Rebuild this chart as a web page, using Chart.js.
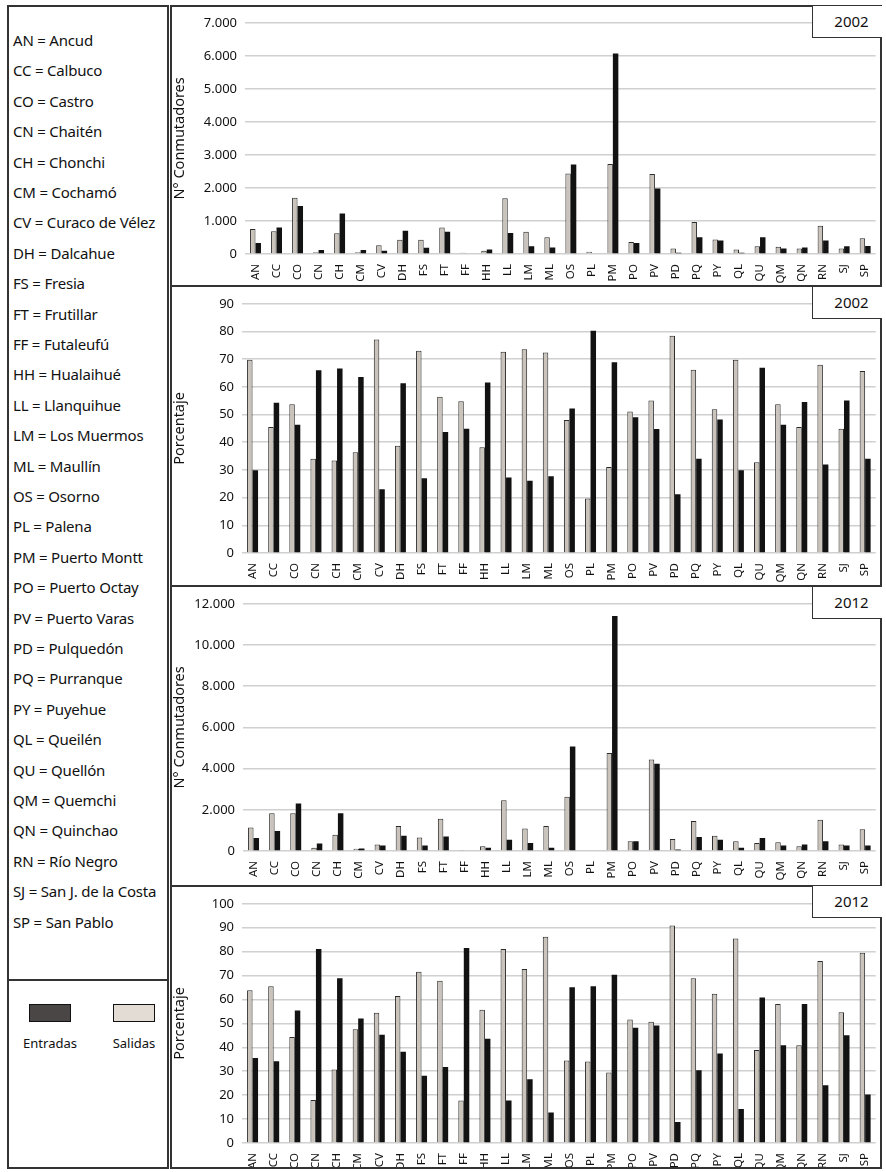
<!DOCTYPE html>
<html>
<head>
<meta charset="utf-8">
<script src="https://cdn.jsdelivr.net/npm/chart.js@4.4.0/dist/chart.umd.min.js"></script>
<style>
  body { margin: 0; background: #fff; font-family: "Noto Sans", sans-serif; color: #111; }
  #wrap { position: relative; width: 886px; height: 1172px; overflow: hidden; }
  .box { position: absolute; border: 2px solid #333; box-sizing: border-box; }
  .abs { position: absolute; }
  .leg { position: absolute; left: 13px; font-size: 15px; white-space: nowrap; line-height: 18px; letter-spacing: -0.2px; }
  .year { position: absolute; left: 812px; width: 70px; height: 32px; box-sizing: border-box;
          border-left: 1.5px solid #333; border-bottom: 1.5px solid #333; background: #fff;
          font-size: 15px; text-align: center; line-height: 30px; padding-left: 8px; }
  canvas { position: absolute; left: 170px; }
</style>
</head>
<body>
<div id="wrap">
  <div class="box" style="left:7px;top:5px;width:162px;height:1164px;"></div>
  <div class="abs" style="left:7px;top:979px;width:162px;height:2px;background:#333;"></div>
  <div class="box" style="left:170px;top:5px;width:712px;height:282px;"></div>
  <div class="box" style="left:170px;top:285px;width:712px;height:302px;"></div>
  <div class="box" style="left:170px;top:585px;width:712px;height:302px;"></div>
  <div class="box" style="left:170px;top:885px;width:712px;height:284px;"></div>

  <canvas id="c1" width="710" height="278" style="top:7px;left:171px"></canvas>
  <canvas id="c2" width="710" height="296" style="top:288px;left:171px"></canvas>
  <canvas id="c3" width="710" height="296" style="top:588px;left:171px"></canvas>
  <canvas id="c4" width="710" height="279" style="top:888px;left:171px"></canvas>

  <div class="year" style="top:6px">2002</div>
  <div class="year" style="top:287px">2002</div>
  <div class="year" style="top:587px">2012</div>
  <div class="year" style="top:886px">2012</div>

  <div id="legend"></div>

  <div class="abs" style="left:29px;top:1004px;width:42px;height:18px;background:#4a4646;border:1.5px solid #111;box-sizing:border-box;"></div>
  <div class="abs" style="left:113px;top:1004px;width:42px;height:18px;background:#e2dcd5;border:1.5px solid #111;box-sizing:border-box;"></div>
  <div class="abs" style="left:15px;top:1034px;width:70px;text-align:center;font-size:13px;">Entradas</div>
  <div class="abs" style="left:99px;top:1034px;width:70px;text-align:center;font-size:13px;">Salidas</div>
</div>

<script>
var categories = ['AN','CC','CO','CN','CH','CM','CV','DH','FS','FT','FF','HH','LL','LM','ML',
                  'OS','PL','PM','PO','PV','PD','PQ','PY','QL','QU','QM','QN','RN','SJ','SP'];

var comunas = ['Ancud','Calbuco','Castro','Chaitén','Chonchi','Cochamó','Curaco de Vélez','Dalcahue',
               'Fresia','Frutillar','Futaleufú','Hualaihué','Llanquihue','Los Muermos','Maullín',
               'Osorno','Palena','Puerto Montt','Puerto Octay','Puerto Varas','Pulquedón','Purranque',
               'Puyehue','Queilén','Quellón','Quemchi','Quinchao','Río Negro','San J. de la Costa','San Pablo'];

// 2002 - numero de conmutadores
var salidas2002 = [755, 686, 1706, 50, 627, 50, 265, 431, 431, 804, 40, 98, 1686, 676, 510,
                   2441, 69, 2725, 363, 2421, 167, 970, 441, 137, 235, 216, 167, 853, 167, 480];
var entradas2002 = [333, 804, 1451, 118, 1225, 118, 100, 706, 186, 676, 20, 137, 637, 235, 196,
                    2706, 20, 6069, 333, 1980, 40, 510, 412, 40, 510, 167, 196, 412, 235, 245];

// 2002 - porcentaje
var salidasPct2002 = [69.8, 45.5, 53.7, 34.0, 33.4, 36.4, 77.1, 38.7, 73.0, 56.4, 54.8, 38.2, 72.7, 73.6, 72.4,
                      48.0, 19.7, 31.1, 51.1, 55.1, 78.5, 66.2, 51.9, 69.8, 32.8, 53.7, 45.5, 68.0, 44.9, 65.7];
var entradasPct2002 = [29.9, 54.3, 46.3, 66.0, 66.6, 63.6, 23.0, 61.3, 27.0, 43.7, 44.9, 61.6, 27.3, 26.1, 27.7,
                       52.2, 80.3, 68.9, 49.0, 44.8, 21.2, 34.0, 48.2, 29.9, 66.9, 46.3, 54.5, 32.0, 55.1, 34.0];

// 2012 - numero de conmutadores
var salidas2012 = [1145, 1835, 1835, 157, 784, 110, 314, 1208, 659, 1569, 47, 235, 2463, 1098, 1208,
                   2635, 31, 4753, 470, 4439, 580, 1459, 737, 470, 392, 424, 235, 1522, 314, 1051];
var entradas2012 = [627, 973, 2306, 361, 1835, 125, 267, 737, 267, 706, 31, 157, 549, 392, 157,
                    5067, 31, 11404, 470, 4235, 78, 675, 549, 157, 627, 267, 314, 470, 267, 267];

// 2012 - porcentaje
var salidasPct2012 = [63.9, 65.5, 44.3, 18.0, 30.7, 47.6, 54.5, 61.5, 71.6, 67.8, 17.8, 55.7, 81.1, 72.7, 86.2,
                      34.5, 34.1, 29.5, 51.6, 50.7, 90.9, 68.9, 62.4, 85.5, 38.9, 58.1, 40.9, 76.1, 54.7, 79.5];
var entradasPct2012 = [35.5, 34.2, 55.4, 81.1, 68.9, 52.0, 45.3, 38.2, 28.1, 31.8, 81.5, 43.6, 17.8, 26.6, 12.8,
                       65.1, 65.5, 70.3, 48.2, 49.1, 8.8, 30.4, 37.4, 14.2, 60.8, 40.9, 58.1, 24.1, 45.0, 20.3];

// left legend list
var legendHtml = '';
for (var i = 0; i < categories.length; i++) {
    var y = 40 + i * 30.4 - 9;
    legendHtml += '<div class="leg" style="top:' + y + 'px">' + categories[i] + ' = ' + comunas[i] + '</div>';
}
document.getElementById('legend').innerHTML = legendHtml;

function miles(v) {
    return String(v).replace(/\B(?=(\d{3})+(?!\d))/g, '.');
}

function makeChart(id, sal, ent, max, step, title, axisW, padTop, xH, fmt) {
    new Chart(document.getElementById(id), {
        type: 'bar',
        data: {
            labels: categories,
            datasets: [{
                label: 'Salidas', data: sal,
                backgroundColor: '#c9c3bb', borderColor: '#2b2b2b', borderWidth: 1,
                categoryPercentage: 0.52, barPercentage: 1.0
            }, {
                label: 'Entradas', data: ent,
                backgroundColor: '#121212', borderWidth: 0,
                categoryPercentage: 0.52, barPercentage: 1.0
            }]
        },
        options: {
            responsive: false,
            animation: false,
            devicePixelRatio: 1,
            layout: { padding: { top: padTop, right: 4, left: 0, bottom: 0 } },
            plugins: { legend: { display: false }, tooltip: { enabled: false } },
            scales: {
                x: {
                    grid: { display: false },
                    border: { display: false },
                    ticks: {
                        autoSkip: false, maxRotation: 90, minRotation: 90,
                        font: { family: 'Noto Sans', size: 11.5 }, color: '#111', padding: 2
                    },
                    afterFit: function (s) { s.height = xH; }
                },
                y: {
                    min: 0, max: max,
                    border: { display: false },
                    grid: { color: '#d0d0d0', lineWidth: 1.5, drawTicks: false },
                    ticks: {
                        stepSize: step,
                        font: { family: 'Noto Sans', size: 13 }, color: '#111', padding: 8,
                        callback: fmt
                    },
                    title: {
                        display: true, text: title,
                        font: { family: 'Noto Sans', size: 14.5 }, color: '#111',
                        padding: { top: 0, bottom: 0 }
                    },
                    afterFit: function (s) { s.width = axisW; }
                }
            }
        }
    });
}

var plain = function (v) { return v; };
var dots = function (v) { return miles(v); };

makeChart('c1', salidas2002, entradas2002, 7000, 1000, 'N° Conmutadores', 74, 10, 31, dots);
makeChart('c2', salidasPct2002, entradasPct2002, 90, 10, 'Porcentaje', 71, 10, 31, plain);
makeChart('c3', salidas2012, entradas2012, 12000, 2000, 'N° Conmutadores', 72, 9, 33, dots);
makeChart('c4', salidasPct2012, entradasPct2012, 100, 10, 'Porcentaje', 71, 9, 24, plain);
</script>
</body>
</html>
